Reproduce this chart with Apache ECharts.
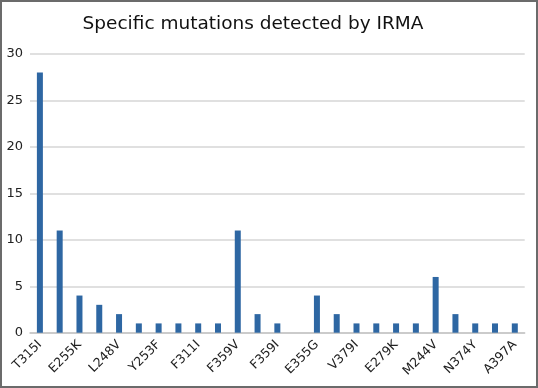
<!DOCTYPE html>
<html>
<head>
<meta charset="utf-8">
<script src="https://cdn.jsdelivr.net/npm/echarts@6/dist/echarts.min.js"></script>
<style>
html,body{margin:0;padding:0;background:#fff;}
#wrap{width:538px;height:388px;box-sizing:border-box;border:2px solid #6b6b6b;background:#fff;}
#chart{width:534px;height:384px;}
</style>
</head>
<body>
<div id="wrap"><div id="chart"></div></div>
<script>
const titleText = "Specific mutations detected by IRMA";
const categories = ["T315I","","E255K","","L248V","","Y253F","","F311I","","F359V","","F359I","","E355G","","V379I","","E279K","","M244V","","N374Y","","A397A"];
const counts = [28,11,4,3,2,1,1,1,1,1,11,2,1,0,4,2,1,1,1,1,6,2,1,1,1];
const yTicks = [0,5,10,15,20,25,30];

const chart = echarts.init(document.getElementById('chart'), null, {renderer:'canvas'});
chart.setOption({
  animation:false,
  backgroundColor:'#fff',
  title:{
    text:titleText,
    left:246, top:8, textAlign:'center',
    textStyle:{fontFamily:'DejaVu Sans', fontSize:18.5, fontWeight:'normal', color:'#111'}
  },
  grid:{left:28, top:52, width:494.7, height:278.7, containLabel:false},
  xAxis:{
    type:'category',
    data:categories,
    axisLine:{show:true, lineStyle:{color:'#c4c4c4', width:1.5}},
    axisTick:{show:false},
    axisLabel:{interval:0, rotate:45, margin:10, fontFamily:'DejaVu Sans', fontSize:12.5, color:'#222'}
  },
  yAxis:{
    type:'value',
    min:yTicks[0], max:yTicks[yTicks.length-1], interval:5,
    axisLine:{show:false},
    axisTick:{show:false},
    splitLine:{lineStyle:{color:'#d6d6d6', width:1.5}},
    axisLabel:{margin:7, fontFamily:'DejaVu Sans', fontSize:13, color:'#222'}
  },
  series:[{
    type:'bar',
    data:counts,
    barWidth:6,
    itemStyle:{color:'#2e67a3'}
  }]
});
</script>
</body>
</html>
